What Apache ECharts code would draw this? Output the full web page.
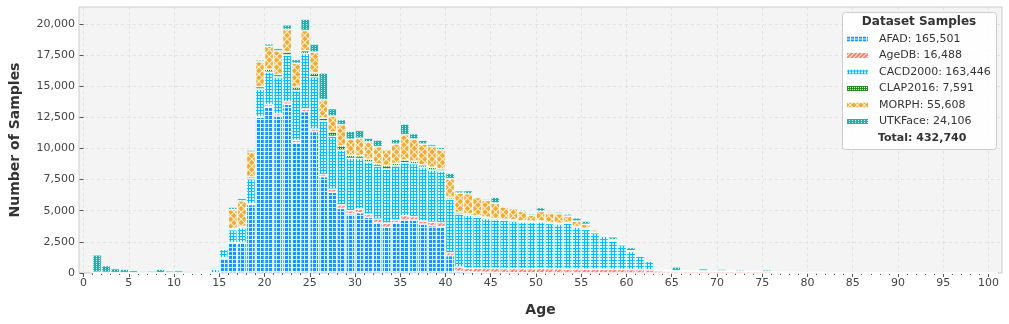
<!DOCTYPE html>
<html>
<head>
<meta charset="utf-8">
<script src="https://cdn.jsdelivr.net/npm/echarts@6/dist/echarts.min.js"></script>
<style>
  html, body { margin: 0; padding: 0; background: #fff; }
  #chart { width: 1009px; height: 324px; }
</style>
</head>
<body>
<div id="chart"></div>
<script>
var firstAge = 1;
var lastAge = 100;
var ages = [];
for (var a = firstAge; a <= lastAge; a++) ages.push(a);

var datasetNames = ["AFAD", "AgeDB", "CACD2000", "CLAP2016", "MORPH", "UTKFace"];
var datasetTotals = ["165,501", "16,488", "163,446", "7,591", "55,608", "24,106"];
var grandTotal = "432,740";

var afad = [
  0, 0, 0, 0, 0, 0, 0, 0, 0, 0,
  0, 0, 0, 0, 1200, 2400, 2400, 5500, 12500, 13350,
  12600, 13550, 10460, 12950, 11350, 7730, 6480, 5190, 4740, 4840,
  4470, 4040, 3670, 4040, 4250, 4250, 3930, 3800, 3720, 1390,
  130, 90, 60, 50, 40, 30, 25, 20, 20, 15,
  10, 10, 8, 6, 5, 4, 3, 2, 2, 2,
  0, 0, 0, 0, 0, 0, 0, 0, 0, 0,
  0, 0, 0, 0, 0, 0, 0, 0, 0, 0,
  0, 0, 0, 0, 0, 0, 0, 0, 0, 0,
  0, 0, 0, 0, 0, 0, 0, 0, 0, 0
];
var agedb = [
  40, 30, 20, 20, 15, 15, 10, 15, 10, 15,
  10, 15, 10, 20, 20, 30, 40, 60, 60, 170,
  180, 200, 190, 210, 200, 170, 240, 270, 260, 300,
  240, 270, 320, 215, 350, 270, 245, 270, 320, 240,
  350, 290, 320, 320, 330, 320, 330, 330, 320, 350,
  330, 320, 310, 320, 310, 310, 310, 300, 290, 280,
  270, 250, 170, 160, 160, 150, 150, 150, 140, 150,
  140, 140, 130, 120, 120, 60, 50, 45, 40, 40,
  35, 30, 25, 20, 20, 18, 15, 12, 10, 10,
  8, 6, 5, 4, 3, 2, 2, 1, 1, 1
];
var cacd = [
  0, 0, 0, 0, 0, 0, 0, 0, 0, 0,
  0, 0, 0, 300, 700, 1050, 1200, 2000, 2200, 2600,
  2950, 3750, 4000, 4450, 4200, 4300, 4250, 4400, 4200, 4050,
  4200, 4250, 4350, 4350, 4250, 4250, 4300, 4200, 4150, 4300,
  4250, 4250, 4100, 4000, 3900, 3880, 3820, 3740, 3730, 3730,
  3640, 3600, 3680, 3350, 3200, 2920, 2650, 2280, 1970, 1450,
  1100, 700, 60, 20, 0, 0, 0, 0, 0, 0,
  0, 0, 0, 0, 0, 0, 0, 0, 0, 0,
  0, 0, 0, 0, 0, 0, 0, 0, 0, 0,
  0, 0, 0, 0, 0, 0, 0, 0, 0, 0
];
var clap = [
  20, 15, 10, 10, 10, 10, 10, 10, 10, 10,
  10, 10, 10, 15, 20, 60, 100, 150, 200, 230,
  200, 230, 280, 230, 300, 230, 350, 350, 250, 220,
  230, 200, 280, 200, 220, 200, 200, 220, 160, 150,
  130, 120, 110, 100, 100, 90, 90, 80, 80, 80,
  70, 70, 60, 60, 60, 50, 50, 45, 40, 40,
  35, 30, 30, 25, 25, 20, 20, 20, 15, 15,
  10, 10, 10, 10, 10, 10, 10, 10, 10, 10,
  5, 5, 5, 5, 5, 5, 5, 5, 5, 5,
  0, 0, 0, 0, 0, 0, 0, 0, 0, 0
];
var morph = [
  0, 0, 0, 0, 0, 0, 0, 0, 0, 0,
  0, 0, 0, 0, 0, 1550, 2050, 2000, 2000, 1850,
  1900, 1820, 1900, 1620, 1680, 1480, 1280, 1700, 1280, 1400,
  1380, 1380, 1280, 1540, 2030, 1780, 1670, 1670, 1540, 1490,
  1540, 1610, 1470, 1360, 1240, 980, 900, 770, 480, 770,
  770, 750, 510, 430, 330, 190, 80, 30, 20, 15,
  10, 10, 8, 5, 5, 0, 0, 0, 0, 0,
  0, 0, 0, 0, 0, 0, 0, 0, 0, 0,
  0, 0, 0, 0, 0, 0, 0, 0, 0, 0,
  0, 0, 0, 0, 0, 0, 0, 0, 0, 0
];
var utk = [
  1400, 550, 330, 280, 180, 120, 140, 280, 150, 170,
  110, 90, 80, 130, 110, 200, 200, 170, 150, 200,
  200, 370, 310, 920, 650, 2150, 600, 400, 650, 640,
  310, 540, 80, 390, 860, 440, 310, 180, 200, 440,
  200, 260, 80, 110, 470, 100, 100, 130, 130, 310,
  120, 150, 180, 260, 260, 100, 100, 250, 90, 260,
  100, 100, 80, 40, 300, 30, 80, 180, 80, 150,
  40, 130, 50, 20, 150, 10, 10, 20, 10, 30,
  40, 20, 20, 10, 80, 15, 10, 10, 15, 50,
  10, 30, 5, 5, 5, 5, 5, 5, 5, 5
];

var yTicks = [0, 2500, 5000, 7500, 10000, 12500, 15000, 17500, 20000];

var seriesValues = [afad, agedb, cacd, clap, morph, utk];
var colors = ["#1e90ff", "#fa8072", "#00bfff", "#228b22", "#eeac34", "#20b2aa"];
var hatch = "rgba(255,255,255,0.85)";
var decals = [
  { symbol: "rect", symbolKeepAspect: false, color: hatch, dashArrayX: [[4, 0], [1, 3], [1, 3], [1, 3]], dashArrayY: [1, 0] },
  { symbol: "rect", symbolKeepAspect: false, color: hatch, dashArrayX: [[4, 0]], dashArrayY: [1, 2], rotation: -Math.PI / 4 },
  { symbol: "rect", symbolKeepAspect: false, color: hatch, dashArrayX: [2, 1], dashArrayY: [2, 1] },
  { symbol: "rect", symbolKeepAspect: false, color: hatch, dashArrayX: [1, 1], dashArrayY: [1, 1] },
  { symbol: "rect", symbolKeepAspect: false, color: hatch, dashArrayX: [[5, 0], [1, 4], [1, 4], [1, 4], [1, 4]], dashArrayY: [1, 0], rotation: Math.PI / 4 },
  { symbol: "rect", symbolKeepAspect: false, color: hatch, dashArrayX: [1, 2], dashArrayY: [1, 1] }
];

// plot area in px, x data range -0.5 .. 101.5, bins [age, age + 1)
var W = 1009;
var plotLeft = 79, plotRight = 7, plotTop = 7, plotBottom = 51;
var xMin = -0.5, xMax = 101.5, yMax = 21350;
var pxPerAge = (W - plotLeft - plotRight) / (xMax - xMin);
function xPx(v) { return plotLeft + (v - xMin) * pxPerAge; }

var font = "DejaVu Sans";
var gridLine = { show: true, lineStyle: { color: "#dddddd", type: [3, 3], width: 0.8 } };

var series = datasetNames.map(function (name, i) {
  return {
    name: name,
    type: "bar",
    stack: "total",
    xAxisIndex: 2,
    yAxisIndex: 2,
    barWidth: "100%",
    itemStyle: {
      color: colors[i],
      borderColor: "#ffffff",
      borderWidth: 0.5,
      decal: decals[i]
    },
    data: seriesValues[i]
  };
});

var chart = echarts.init(document.getElementById("chart"), null, { renderer: "canvas" });
chart.setOption({
  animation: false,
  textStyle: { fontFamily: font },
  grid: [
    { left: plotLeft, right: plotRight, top: plotTop, bottom: plotBottom, show: true,
      backgroundColor: "#f4f4f4", borderColor: "#cccccc", borderWidth: 1 },
    { left: xPx(0), right: W - xPx(100), top: plotTop, bottom: plotBottom },
    { left: xPx(firstAge), right: W - xPx(lastAge + 1), top: plotTop, bottom: plotBottom }
  ],
  xAxis: [
    {
      type: "value", gridIndex: 0, min: xMin, max: xMax,
      axisLine: { show: false }, axisTick: { show: false },
      axisLabel: { show: false }, splitLine: { show: false },
      name: "Age", nameLocation: "middle", nameGap: 30,
      nameTextStyle: { fontFamily: font, fontSize: 14, fontWeight: "bold", color: "#333" }
    },
    {
      type: "value", gridIndex: 1, min: 0, max: 100, interval: 5,
      axisLine: { show: false },
      axisTick: { show: true, length: 4, lineStyle: { color: "#555" } },
      minorTick: { show: true, splitNumber: 5, length: 2, lineStyle: { color: "#555" } },
      axisLabel: { fontFamily: font, fontSize: 11, color: "#444", margin: 5 },
      splitLine: gridLine
    },
    {
      type: "category", gridIndex: 2, data: ages, boundaryGap: true, show: false
    }
  ],
  yAxis: [
    {
      type: "value", gridIndex: 0, min: 0, max: yMax, interval: 2500,
      axisLine: { show: false },
      axisTick: { show: true, length: 4, customValues: yTicks, lineStyle: { color: "#555" } },
      axisLabel: {
        fontFamily: font, fontSize: 11, color: "#444", margin: 4, customValues: yTicks,
        formatter: function (v) { return v.toLocaleString("en-US"); }
      },
      splitLine: gridLine,
      name: "Number of Samples", nameLocation: "middle", nameGap: 57,
      nameTextStyle: { fontFamily: font, fontSize: 14, fontWeight: "bold", color: "#333" }
    },
    { type: "value", gridIndex: 1, min: 0, max: yMax, show: false },
    { type: "value", gridIndex: 2, min: 0, max: yMax, show: false }
  ],
  legend: {
    orient: "vertical",
    left: 845,
    top: 32,
    padding: 0,
    itemWidth: 23,
    itemHeight: 7,
    itemGap: 2.5,
    icon: "rect",
    data: datasetNames,
    formatter: function (name) {
      return name + ": " + datasetTotals[datasetNames.indexOf(name)];
    },
    textStyle: { fontFamily: font, fontSize: 11, color: "#333", lineHeight: 14, padding: [0, 0, 0, 5] },
    z: 10
  },
  graphic: [
    {
      type: "rect", left: 842, top: 12, z: 5,
      shape: { width: 154, height: 137, r: 3 },
      style: { fill: "rgba(255,255,255,0.85)", stroke: "#cccccc", lineWidth: 1 }
    },
    {
      type: "text", x: 919, y: 22, z: 6,
      style: { text: "Dataset Samples", font: "bold 12px 'DejaVu Sans'", fill: "#333", align: "center", verticalAlign: "middle" }
    },
    {
      type: "text", x: 878, y: 138, z: 6,
      style: { text: "Total: " + grandTotal, font: "bold 11px 'DejaVu Sans'", fill: "#333", align: "left", verticalAlign: "middle" }
    }
  ],
  series: series
});
</script>
</body>
</html>
